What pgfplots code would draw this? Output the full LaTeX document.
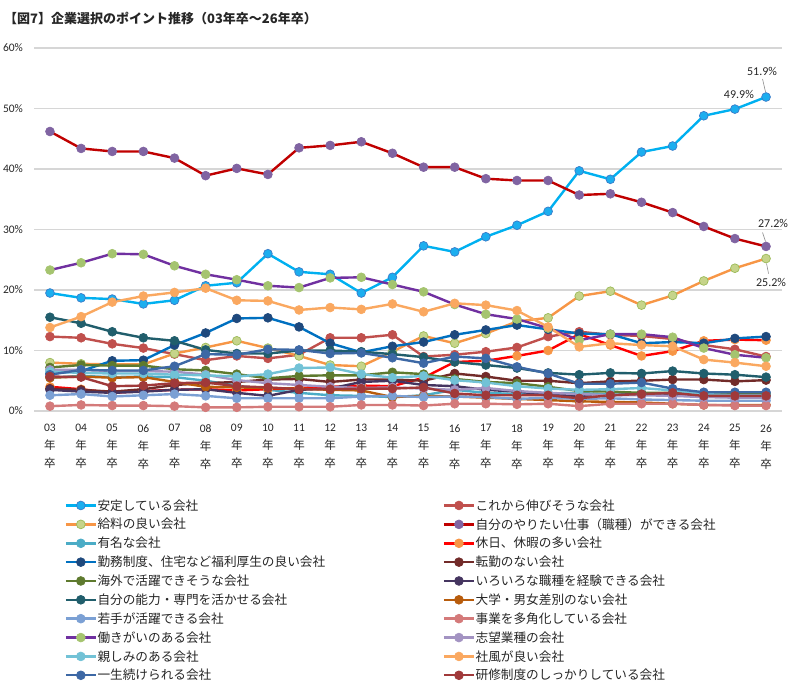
\documentclass[border=0pt]{standalone}
\usepackage{pgfplots}
\pgfplotsset{compat=1.18}
\usepackage{pgfplotstable}
\usepackage{fontspec}
\setmainfont{Carlito}
\newfontfamily\jp{Noto Sans CJK JP}

% series colours: line / marker fill / marker border
\definecolor{lA}{HTML}{00B0F0}\definecolor{fA}{HTML}{1CAEEF}\definecolor{dA}{HTML}{3A7CC9}
\definecolor{lB}{HTML}{C0504D}
\definecolor{lC}{HTML}{F79646}\definecolor{fC}{HTML}{C6D48A}\definecolor{dC}{HTML}{9BBB59}
\definecolor{lD}{HTML}{C00000}\definecolor{fD}{HTML}{8064A2}
\definecolor{lE}{HTML}{4BACC6}
\definecolor{lF}{HTML}{FF0000}\definecolor{fF}{HTML}{F79646}
\definecolor{lG}{HTML}{0070C0}\definecolor{fG}{HTML}{1F497D}
\definecolor{lH}{HTML}{722B29}
\definecolor{lI}{HTML}{5E7A2E}
\definecolor{lJ}{HTML}{453560}
\definecolor{lK}{HTML}{215E6C}
\definecolor{lL}{HTML}{B85C0C}
\definecolor{lM}{HTML}{7BA0D4}
\definecolor{lN}{HTML}{D47A7A}
\definecolor{lO}{HTML}{7030A0}\definecolor{fO}{HTML}{A5C46F}
\definecolor{lP}{HTML}{A393C2}
\definecolor{lQ}{HTML}{72C2D6}
\definecolor{lR}{HTML}{FAA860}
\definecolor{lS}{HTML}{3D68A5}
\definecolor{lT}{HTML}{A0393A}
\definecolor{txt}{HTML}{262626}

% share of students choosing each point, by graduation year (index 0 = 03, 23 = 26)
\pgfplotstableread{
yr a b c d e f g h i j k l m n o p q r s t
0 19.5 12.3 8.0 46.2 5.5 4.0 6.2 3.7 7.2 3.5 15.5 5.5 2.6 0.8 23.3 6.8 6.5 13.8 6.0 5.7
1 18.7 12.1 7.8 43.4 5.8 3.6 6.6 3.5 7.6 3.2 14.5 5.7 2.8 1.0 24.5 6.8 6.3 15.6 6.8 5.6
2 18.5 11.1 7.7 42.9 5.6 3.0 8.3 3.2 7.5 3.0 13.1 5.5 2.4 0.9 26.0 6.6 6.2 18.0 6.7 4.1
3 17.7 10.4 7.7 42.9 5.7 3.3 8.4 3.6 7.5 3.2 12.1 5.6 2.6 0.9 25.9 6.6 6.2 19.0 6.7 4.2
4 18.3 9.4 9.5 41.8 5.6 3.5 10.9 4.3 6.9 3.5 11.6 4.8 2.8 0.8 24.0 6.5 6.0 19.6 7.4 4.6
5 20.7 8.4 10.5 38.9 5.0 3.6 12.9 4.6 6.7 3.6 10.1 4.0 2.5 0.6 22.6 6.0 5.9 20.3 9.4 4.7
6 21.2 9.1 11.6 40.1 4.2 3.4 15.3 4.8 6.1 3.0 9.5 3.9 2.1 0.6 21.7 5.1 5.7 18.3 9.3 4.1
7 26.0 8.7 10.4 39.1 3.5 3.6 15.4 5.2 5.4 2.5 9.5 3.8 2.1 0.7 20.7 4.6 6.1 18.2 10.2 3.9
8 23.0 9.3 9.1 43.5 3.0 3.8 13.9 5.3 5.8 3.5 10.0 3.7 2.1 0.7 20.4 4.3 7.1 16.7 10.1 3.6
9 22.6 12.1 7.6 43.9 2.6 4.0 11.2 4.8 5.9 3.7 10.0 3.5 2.1 0.7 22.0 4.0 7.2 17.1 9.5 3.6
10 19.5 12.1 7.4 44.5 2.5 4.2 9.7 5.2 5.9 4.8 9.8 3.4 2.4 1.0 22.1 3.8 6.1 16.8 9.6 3.7
11 22.1 12.6 9.8 42.6 2.3 4.1 10.7 5.2 6.4 5.0 9.4 2.3 2.5 1.0 20.9 3.9 5.5 17.7 8.8 3.7
12 27.3 9.0 12.4 40.3 2.6 5.5 11.4 5.0 6.1 4.3 8.9 2.5 2.3 0.9 19.7 3.7 5.8 16.4 7.9 3.9
13 26.3 9.3 11.2 40.3 3.5 8.1 12.6 6.2 5.3 4.1 8.1 2.4 2.4 1.2 17.6 3.5 5.1 17.8 9.0 2.9
14 28.8 9.8 12.8 38.4 3.0 8.3 13.4 5.7 4.8 3.5 7.6 2.2 2.3 1.2 16.0 3.8 4.7 17.5 8.7 2.6
15 30.7 10.5 14.8 38.1 2.8 9.1 14.2 5.0 4.6 3.2 7.1 2.0 2.0 1.1 15.2 3.3 4.1 16.6 7.3 2.6
16 33.0 12.3 15.4 38.1 2.9 10.0 13.5 5.0 4.0 2.7 6.3 1.8 2.2 1.2 13.7 3.0 3.7 13.9 6.2 2.6
17 39.7 13.1 19.0 35.7 3.0 12.7 12.8 4.6 3.3 2.5 6.0 1.6 2.0 0.8 11.7 2.8 3.5 10.6 4.5 2.1
18 38.3 12.6 19.8 35.9 2.7 10.9 12.7 4.9 3.2 2.6 6.3 1.5 2.1 1.2 12.7 2.6 3.6 11.2 4.5 2.6
19 42.8 12.4 17.5 34.5 2.8 9.1 11.2 5.0 3.0 2.8 6.2 1.4 1.9 1.2 12.7 2.6 3.8 10.9 4.7 2.8
20 43.8 11.9 19.1 32.8 2.6 9.9 11.4 5.2 3.0 2.6 6.6 1.2 1.8 1.2 12.2 2.5 3.4 10.7 3.7 3.0
21 48.8 10.9 21.5 30.5 2.4 11.6 11.2 5.2 2.9 2.5 6.2 1.0 1.7 1.0 10.4 2.3 2.8 8.5 3.1 2.5
22 49.9 10.2 23.6 28.5 2.3 11.8 12.0 4.9 2.9 2.6 6.0 1.0 1.7 0.9 9.3 2.2 2.6 8.0 3.1 2.5
23 51.9 9.0 25.2 27.2 2.2 11.7 12.3 5.1 2.8 2.6 5.6 1.0 1.7 0.9 8.8 2.2 2.6 7.4 3.1 2.5
}\pointdata

\pgfplotsset{
  ser/.style n args={3}{color=#1, line width=2.4bp, mark=*, mark size=4.4bp,
    mark options={solid, fill=#2, draw=#3, line width=0.7bp}},
}
\newcommand{\yr}[1]{#1\\{\jp 年}\\{\jp 卒}}

\begin{document}
\begin{tikzpicture}
\path[use as bounding box] (0,0) rectangle (792bp,692bp);
\node[anchor=west, text=txt, font={\jp\bfseries\fontsize{13bp}{15bp}\selectfont}, inner sep=0pt]
  at (4bp,674bp) {【図7】企業選択のポイント推移（03年卒～26年卒）};
\begin{axis}[
  at={(34.4bp,281bp)}, anchor=south west,
  scale only axis, width=747.2bp, height=363bp,
  xmin=-0.5, xmax=23.5, ymin=0, ymax=60,
  axis line style={draw=none},
  major tick length=0pt,
  ytick={0,10,...,60},
  ymajorgrids, grid style={draw=black!16, line width=1.1bp},
  yticklabel={\pgfmathprintnumber{\tick}\%},
  yticklabel style={font=\fontsize{11.5bp}{13bp}\selectfont, text=txt, xshift=-8bp},
  xtick={0,...,23},
  xticklabels={\yr{03},\yr{04},\yr{05},\yr{06},\yr{07},\yr{08},\yr{09},\yr{10},\yr{11},\yr{12},
    \yr{13},\yr{14},\yr{15},\yr{16},\yr{17},\yr{18},\yr{19},\yr{20},\yr{21},\yr{22},\yr{23},
    \yr{24},\yr{25},\yr{26}},
  xticklabel style={align=center, font=\fontsize{11.5bp}{18bp}\selectfont, text=txt, yshift=-10bp},
  /pgf/number format/assume math mode=true,
  clip=false,
  legend columns=2,
  legend cell align=left,
  legend image code/.code={\draw[mark repeat=2, mark phase=2]
    plot coordinates {(0bp,0bp) (15bp,0bp) (30bp,0bp)};},
  legend style={at={(0.0362,-0.232)}, anchor=north west, draw=none, fill=none,
    nodes={inner xsep=0.5bp},
    font={\jp\fontsize{12.65bp}{15bp}\selectfont}, text=txt, row sep=2.7bp,
    /tikz/every even column/.append style={column sep=117bp}},
]
\addplot[ser={lA}{fA}{dA}] table[x=yr, y=a] {\pointdata};
\addlegendentry{安定している会社}
\addplot[ser={lB}{lB}{lB}] table[x=yr, y=b] {\pointdata};
\addlegendentry{これから伸びそうな会社}
\addplot[ser={lC}{fC}{dC}] table[x=yr, y=c] {\pointdata};
\addlegendentry{給料の良い会社}
\addplot[ser={lD}{fD}{fD}] table[x=yr, y=d] {\pointdata};
\addlegendentry{自分のやりたい仕事（職種）ができる会社}
\addplot[ser={lE}{lE}{lE}] table[x=yr, y=e] {\pointdata};
\addlegendentry{有名な会社}
\addplot[ser={lF}{fF}{fF}] table[x=yr, y=f] {\pointdata};
\addlegendentry{休日、休暇の多い会社}
\addplot[ser={lG}{fG}{fG}] table[x=yr, y=g] {\pointdata};
\addlegendentry{勤務制度、住宅など福利厚生の良い会社}
\addplot[ser={lH}{lH}{lH}] table[x=yr, y=h] {\pointdata};
\addlegendentry{転勤のない会社}
\addplot[ser={lI}{lI}{lI}] table[x=yr, y=i] {\pointdata};
\addlegendentry{海外で活躍できそうな会社}
\addplot[ser={lJ}{lJ}{lJ}] table[x=yr, y=j] {\pointdata};
\addlegendentry{いろいろな職種を経験できる会社}
\addplot[ser={lK}{lK}{lK}] table[x=yr, y=k] {\pointdata};
\addlegendentry{自分の能力・専門を活かせる会社}
\addplot[ser={lL}{lL}{lL}] table[x=yr, y=l] {\pointdata};
\addlegendentry{大学・男女差別のない会社}
\addplot[ser={lM}{lM}{lM}] table[x=yr, y=m] {\pointdata};
\addlegendentry{若手が活躍できる会社}
\addplot[ser={lN}{lN}{lN}] table[x=yr, y=n] {\pointdata};
\addlegendentry{事業を多角化している会社}
\addplot[ser={lO}{fO}{fO}] table[x=yr, y=o] {\pointdata};
\addlegendentry{働きがいのある会社}
\addplot[ser={lP}{lP}{lP}] table[x=yr, y=p] {\pointdata};
\addlegendentry{志望業種の会社}
\addplot[ser={lQ}{lQ}{lQ}] table[x=yr, y=q] {\pointdata};
\addlegendentry{親しみのある会社}
\addplot[ser={lR}{lR}{lR}] table[x=yr, y=r] {\pointdata};
\addlegendentry{社風が良い会社}
\addplot[ser={lS}{lS}{lS}] table[x=yr, y=s] {\pointdata};
\addlegendentry{一生続けられる会社}
\addplot[ser={lT}{lT}{lT}] table[x=yr, y=t] {\pointdata};
\addlegendentry{研修制度のしっかりしている会社}

% value labels for the latest two years
\draw[black!45, line width=0.6bp] (axis cs:23,51.9) ++(-0.5bp,5bp) -- ++(-3bp,13bp);
\node[font=\fontsize{12bp}{14bp}\selectfont, text=txt] at (axis cs:23,51.9) [xshift=-4bp, yshift=26bp] {51.9\%};
\node[font=\fontsize{12bp}{14bp}\selectfont, text=txt] at (axis cs:22,49.9) [xshift=4bp, yshift=15bp] {49.9\%};
\draw[black!45, line width=0.6bp] (axis cs:23,27.2) ++(-0.5bp,5bp) -- ++(-3bp,9bp);
\node[font=\fontsize{12bp}{14bp}\selectfont, text=txt] at (axis cs:23,27.2) [xshift=7bp, yshift=23bp] {27.2\%};
\draw[black!45, line width=0.6bp] (axis cs:23,25.2) ++(0.5bp,-5bp) -- ++(2bp,-10bp);
\node[font=\fontsize{12bp}{14bp}\selectfont, text=txt] at (axis cs:23,25.2) [xshift=5bp, yshift=-24bp] {25.2\%};
\end{axis}
\end{tikzpicture}
\end{document}
